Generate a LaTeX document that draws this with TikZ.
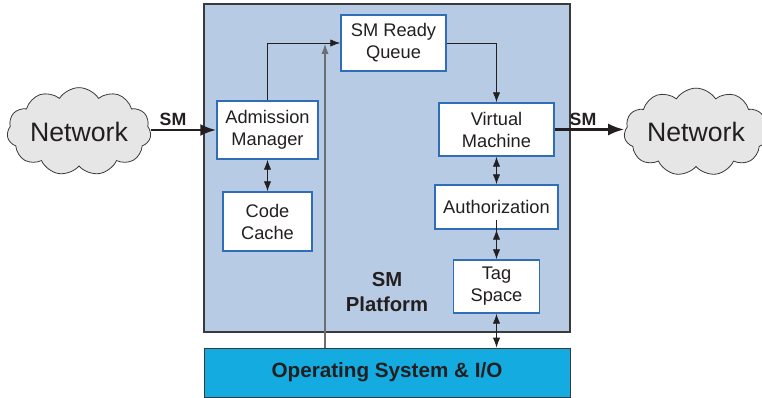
\documentclass[tikz,border=0pt]{standalone}
\usepackage{fontspec}
\setmainfont{Liberation Sans}
\usetikzlibrary{arrows.meta,shapes.symbols,positioning}
\definecolor{txt}{HTML}{231F20}
\definecolor{platfill}{HTML}{B7CCE4}
\definecolor{platedge}{HTML}{3A3A3C}
\definecolor{boxedge}{HTML}{2F6DB5}
\definecolor{osfill}{HTML}{14ABE0}
\definecolor{cloudfill}{HTML}{E6E6E6}
\definecolor{wire}{HTML}{231F20}
\definecolor{feed}{HTML}{6D6E71}
\tikzset{
  px/.style={x=0.75pt,y=-0.75pt},
  module/.style={draw=boxedge,line width=1.1pt,fill=white,text=txt,align=center,
    font=\fontsize{13.7}{16.5}\selectfont,inner sep=0pt},
  netcloud/.style={cloud,cloud puffs=11,cloud puff arc=115,aspect=2,draw=platedge,
    line width=0.6pt,fill=cloudfill,text=txt,font=\fontsize{20}{24}\selectfont,
    minimum width=108pt,minimum height=56pt,inner sep=0pt},
  link/.style={draw=wire,line width=0.6pt,-{Latex[length=7.5pt,width=5.5pt]}},
  duplex/.style={draw=wire,line width=0.6pt,{Latex[length=7.5pt,width=5.5pt]}-{Latex[length=7.5pt,width=5.5pt]}},
  flow/.style={draw=wire,line width=1.9pt,-{Latex[length=12pt,width=9pt]}},
  tag/.style={text=txt,font=\bfseries\fontsize{13.3}{16}\selectfont,inner sep=0pt},
}
\begin{document}
\begin{tikzpicture}[px]
\useasboundingbox (0,0) rectangle (762,398);

% platform and operating system layers
\draw[fill=platfill,draw=platedge,line width=0.8pt] (204,4) rectangle (570,332);
\node[draw=platedge,line width=0.6pt,fill=osfill,minimum width=274.5pt,minimum height=36.75pt,
  inner sep=0pt,text=txt,font=\bfseries\fontsize{15.5}{18}\selectfont] (os) at (387,372.5) {Operating System \& I/O};

\node[text=txt,align=center,font=\bfseries\fontsize{15.2}{18.75}\selectfont] (plat) at (387,292.5) {SM\\Platform};

% modules
\node[module,minimum width=75.75pt,minimum height=43.5pt] (am) at (267.5,130) {Admission\\Manager};
\node[module,minimum width=66.75pt,minimum height=44.25pt] (cc) at (267.5,221.5) {Code\\Cache};
\node[module,minimum width=78.75pt,minimum height=42pt] (rq) at (393.5,43) {SM Ready\\Queue};
\node[module,minimum width=86.25pt,minimum height=39.75pt] (vm) at (496.5,129.5) {Virtual\\Machine};
\node[module,minimum width=92.25pt,minimum height=33pt] (au) at (496.5,207) {Authorization};
\node[module,minimum width=64.5pt,minimum height=39.75pt] (ts) at (496.5,286.5) {Tag\\Space};

% networks
\node[netcloud] (netl) at (79,131.5) {Network};
\node[netcloud] (netr) at (696,132) {Network};

% connectors
\coordinate (feedtop) at (325,44);
\draw[draw=feed,line width=0.8pt,-{Latex[length=7.5pt,width=5.5pt]}] (os.north -| feedtop) -- (feedtop);
\draw[link] (am.north) |- (rq.west);
\draw[link] (rq.east) -| (vm.north);
\draw[duplex] (am.south) -- (cc.north);
\draw[duplex] (vm.south) -- (au.north);
\draw[duplex] (au.south) -- (ts.south |- au.south) -- (ts.north);
\draw[duplex] (ts.south) -- (ts.south |- os.north);

\draw[flow] (netl.east |- am.west) -- (am.west);
\draw[flow] (vm.east) -- (vm.east -| netr.west);
\node[tag] (sml) at (173,119) {SM};
\node[tag] (smr) at (583,119) {SM};
\end{tikzpicture}
\end{document}
